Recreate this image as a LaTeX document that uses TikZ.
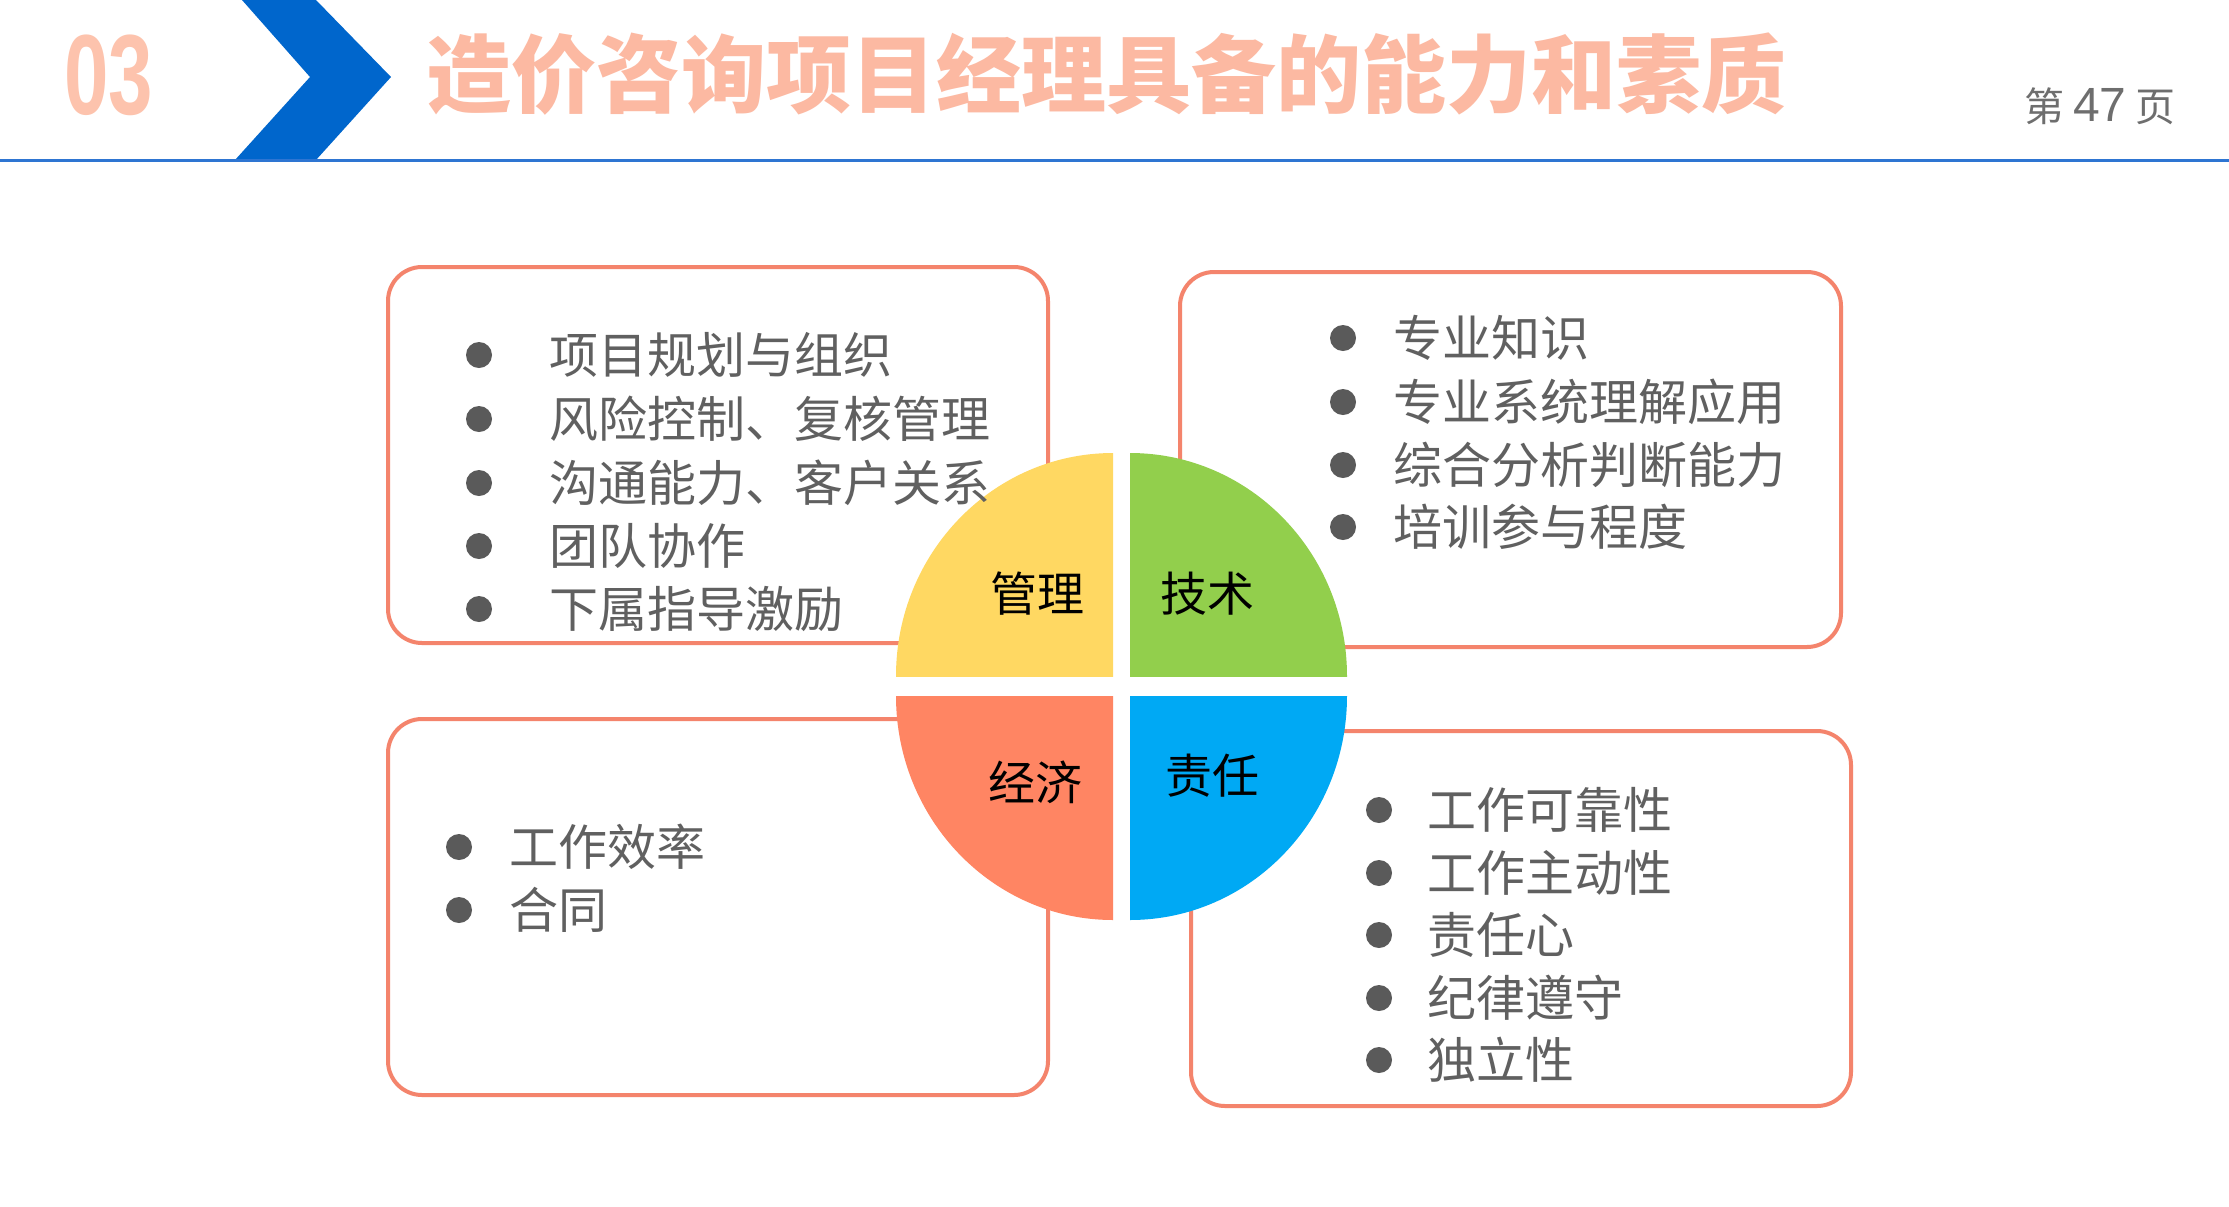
\documentclass[tikz,border=0pt]{standalone}
\usepackage{fontspec}
\setmainfont{Liberation Sans}
\newfontfamily\cjk{Noto Sans CJK SC}
\newfontfamily\latn{Liberation Sans}
\definecolor{chevblue}{HTML}{0066CC}
\definecolor{lineblue}{HTML}{2E75D2}
\definecolor{titlecol}{HTML}{FCB9A2}
\definecolor{numcol}{HTML}{FDC3AD}
\definecolor{pagegray}{HTML}{6E6E6E}
\definecolor{boxline}{HTML}{F4846C}
\definecolor{txtgray}{HTML}{606060}
\definecolor{bulgray}{HTML}{5A5A5A}
\definecolor{qyellow}{HTML}{FFD862}
\definecolor{qgreen}{HTML}{92CF4C}
\definecolor{qorange}{HTML}{FF8563}
\definecolor{qblue}{HTML}{00A9F4}
\begin{document}
\begin{tikzpicture}[x=0.5pt,y=-0.5pt,
  cardbox/.style={draw=boxline, line width=2pt, rounded corners=17pt, fill=white},
  bul/.style={circle, fill=bulgray, inner sep=0pt, minimum size=13pt},
  item/.style={anchor=west, inner sep=0pt, text=txtgray, font=\cjk\fontsize{24.5}{30}\selectfont},
  qlabel/.style={inner sep=0pt, text=black, font=\cjk\fontsize{23.5}{28}\selectfont}
]
\useasboundingbox (0,0) rectangle (2229,1206);
\fill[white] (0,0) rectangle (2229,1206);
% header
\fill[chevblue] (242,0) -- (316,0) -- (391,77) -- (316,160) -- (235,160) -- (310,77) -- cycle;
\draw[lineblue, line width=1.5pt] (0,160) -- (2229,160);
\node[inner sep=0pt, text=numcol, font=\latn\bfseries\fontsize{57}{57}\selectfont, xscale=0.7] (num) at (109,75) {03};
\node[anchor=west, inner sep=0pt, text=titlecol, font=\cjk\bfseries\fontsize{42.5}{45}\selectfont] (title) at (426,74) {造价咨询项目经理具备的能力和素质};
\node[anchor=east, inner sep=0pt, text=pagegray, font=\cjk\fontsize{20}{22}\selectfont] (page) at (2176,106) {第 {\latn\fontsize{24}{24}\selectfont 47} 页};
% boxes
\draw[cardbox] (388,267) rectangle (1048,643);
\draw[cardbox] (1180,272) rectangle (1841,647);
\draw[cardbox] (388,719) rectangle (1048,1095);
\draw[cardbox] (1191,731) rectangle (1851,1106);
% quadrants
\begin{scope}\clip (896,453) rectangle (1113,676);
\fill[qyellow] (1113,676) ellipse [x radius=217, y radius=223];\end{scope}
\begin{scope}\clip (1130,453) rectangle (1347,676);
\fill[qgreen] (1130,676) ellipse [x radius=217, y radius=223];\end{scope}
\begin{scope}\clip (896,696) rectangle (1113,920);
\fill[qorange] (1113,696) ellipse [x radius=217, y radius=224];\end{scope}
\begin{scope}\clip (1130,696) rectangle (1347,920);
\fill[qblue] (1130,696) ellipse [x radius=217, y radius=224];\end{scope}
\node[qlabel] (q1) at (1037,594) {管理};
\node[qlabel] (q2) at (1207,594) {技术};
\node[qlabel] (q3) at (1035,782) {经济};
\node[qlabel] (q4) at (1212,776) {责任};
% top-left items
\node[bul] (b11) at (479,355) {}; \node[item] (t11) at (549,355) {项目规划与组织};
\node[bul] (b12) at (479,419) {}; \node[item] (t12) at (549,419) {风险控制、复核管理};
\node[bul] (b13) at (479,483) {}; \node[item] (t13) at (549,483) {沟通能力、客户关系};
\node[bul] (b14) at (479,546) {}; \node[item] (t14) at (549,546) {团队协作};
\node[bul] (b15) at (479,609) {}; \node[item] (t15) at (549,609) {下属指导激励};
% top-right items
\node[bul] (b21) at (1343,338) {}; \node[item] (t21) at (1393,338) {专业知识};
\node[bul] (b22) at (1343,402) {}; \node[item] (t22) at (1393,402) {专业系统理解应用};
\node[bul] (b23) at (1343,465) {}; \node[item] (t23) at (1393,465) {综合分析判断能力};
\node[bul] (b24) at (1343,527) {}; \node[item] (t24) at (1393,527) {培训参与程度};
% bottom-left items
\node[bul] (b31) at (459,847) {}; \node[item] (t31) at (509,847) {工作效率};
\node[bul] (b32) at (459,910) {}; \node[item] (t32) at (509,910) {合同};
% bottom-right items
\node[bul] (b41) at (1379,810) {}; \node[item] (t41) at (1427,810) {工作可靠性};
\node[bul] (b42) at (1379,873) {}; \node[item] (t42) at (1427,873) {工作主动性};
\node[bul] (b43) at (1379,935) {}; \node[item] (t43) at (1427,935) {责任心};
\node[bul] (b44) at (1379,998) {}; \node[item] (t44) at (1427,998) {纪律遵守};
\node[bul] (b45) at (1379,1060) {}; \node[item] (t45) at (1427,1060) {独立性};
\end{tikzpicture}
\end{document}
